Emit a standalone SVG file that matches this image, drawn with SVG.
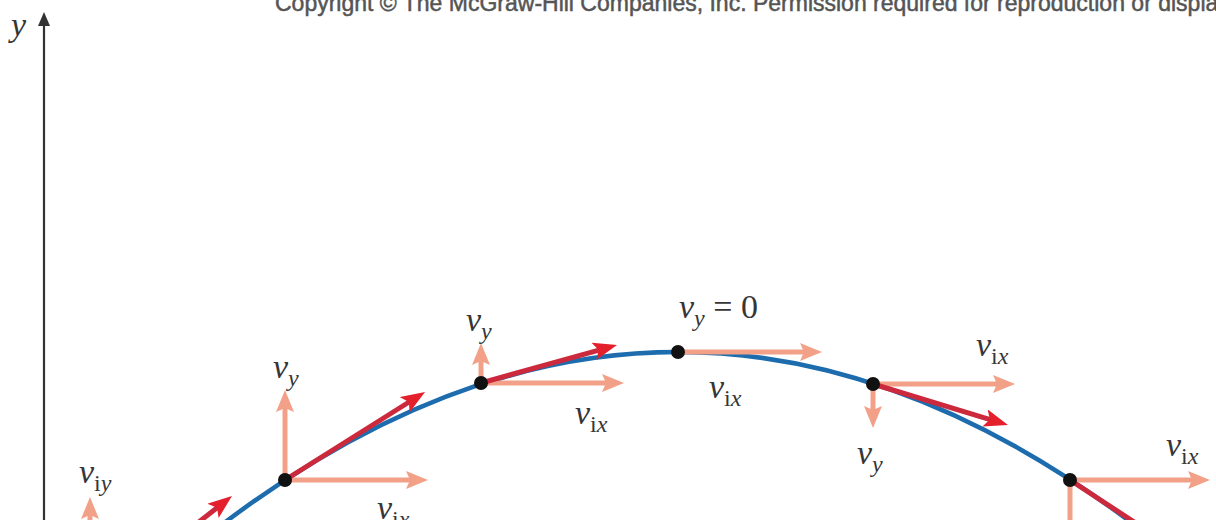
<svg xmlns="http://www.w3.org/2000/svg" width="1216" height="520" viewBox="0 0 1216 520">
  <style>
    .lbl { font-family: "Liberation Serif", "DejaVu Serif", serif; font-style: italic; font-size: 34px; fill: #363636; }
    .sub { font-size: 24px; }
    .rom { font-style: normal; }
    .up { font-style: normal; }
    .dot { fill: #111; }
    .comp { stroke: #f2a088; stroke-width: 5; fill: none; }
    .vel { stroke: #cc2a3c; stroke-width: 5; fill: none; }
    .copy { font-family: "Liberation Sans", Arial, sans-serif; font-size: 23px; fill: #555555; stroke: #555555; stroke-width: 0.5; }
  </style>
  <defs>
    <marker id="hs" markerUnits="userSpaceOnUse" markerWidth="24" markerHeight="20" refX="8" refY="9" orient="auto">
      <path d="M0,0 L22,9 L0,18 L4,9 Z" fill="#f2a088"/>
    </marker>
    <marker id="hr" markerUnits="userSpaceOnUse" markerWidth="26" markerHeight="20" refX="8" refY="9" orient="auto">
      <path d="M0,0 L24,9 L0,18 L5,9 Z" fill="#e4202c"/>
    </marker>
    <marker id="ha" markerUnits="userSpaceOnUse" markerWidth="14" markerHeight="18" refX="2" refY="6" orient="auto">
      <path d="M0,0 L14,6 L0,12 Z" fill="#333"/>
    </marker>
  </defs>
  <rect width="1216" height="520" fill="#ffffff"/>

  <text class="copy" x="275" y="11">Copyright © The McGraw-Hill Companies, Inc. Permission required for reproduction or display.</text>

  <g id="axis">
    <line x1="44" y1="530" x2="44" y2="24" stroke="#333" stroke-width="2.2" marker-end="url(#ha)"/>
    <text class="lbl" x="11" y="36" font-size="28">y</text>
  </g>

  <g id="trajectory">
    <path d="M178,559.5 Q678,144.5 1178,559.5" fill="none" stroke="#1c6cae" stroke-width="4.5"/>
  </g>

  <g id="connectors">
    <!-- components -->
    <line class="comp" x1="90" y1="560" x2="90" y2="511" marker-end="url(#hs)"/>
    <line class="comp" x1="285" y1="480" x2="285" y2="404" marker-end="url(#hs)"/>
    <line class="comp" x1="285" y1="480" x2="414" y2="480" marker-end="url(#hs)"/>
    <line class="comp" x1="481" y1="383" x2="481" y2="357" marker-end="url(#hs)"/>
    <line class="comp" x1="481" y1="383" x2="610" y2="383" marker-end="url(#hs)"/>
    <line class="comp" x1="678" y1="352" x2="808" y2="352" marker-end="url(#hs)"/>
    <line class="comp" x1="873" y1="384" x2="873" y2="414" marker-end="url(#hs)"/>
    <line class="comp" x1="873" y1="384" x2="1001" y2="384" marker-end="url(#hs)"/>
    <line class="comp" x1="1070" y1="480" x2="1196" y2="480" marker-end="url(#hs)"/>
    <line class="comp" x1="1070" y1="480" x2="1070" y2="560"/>
    <!-- velocities -->
    <line class="vel" x1="130" y1="576" x2="219.4" y2="505.9" marker-end="url(#hr)"/>
    <line class="vel" x1="285" y1="480" x2="411.5" y2="400.5" marker-end="url(#hr)"/>
    <line class="vel" x1="481" y1="383" x2="601.6" y2="349.3" marker-end="url(#hr)"/>
    <line class="vel" x1="873" y1="384" x2="992.7" y2="420.3" marker-end="url(#hr)"/>
    <line class="vel" x1="1070" y1="480" x2="1160" y2="539" marker-end="url(#hr)"/>
  </g>

  <g id="p0">
    <text class="lbl" x="79" y="483">v<tspan class="sub rom" dy="8">i</tspan><tspan class="sub">y</tspan></text>
  </g>
  <g id="p1">
    <circle class="dot" cx="285" cy="480" r="7"/>
    <text class="lbl" x="273" y="378">v<tspan class="sub" dy="8">y</tspan></text>
    <text class="lbl" x="377" y="519">v<tspan class="sub rom" dy="8">i</tspan><tspan class="sub">x</tspan></text>
  </g>
  <g id="p2">
    <circle class="dot" cx="481" cy="383" r="7"/>
    <text class="lbl" x="466" y="331">v<tspan class="sub" dy="8">y</tspan></text>
    <text class="lbl" x="575" y="424">v<tspan class="sub rom" dy="8">i</tspan><tspan class="sub">x</tspan></text>
  </g>
  <g id="p3">
    <circle class="dot" cx="678" cy="352" r="7"/>
    <text class="lbl" x="679" y="318">v<tspan class="sub" dy="8">y</tspan><tspan class="up" dy="-8"> = 0</tspan></text>
    <text class="lbl" x="709" y="398">v<tspan class="sub rom" dy="8">i</tspan><tspan class="sub">x</tspan></text>
  </g>
  <g id="p4">
    <circle class="dot" cx="873" cy="384" r="7"/>
    <text class="lbl" x="857" y="464">v<tspan class="sub" dy="8">y</tspan></text>
    <text class="lbl" x="976" y="356">v<tspan class="sub rom" dy="8">i</tspan><tspan class="sub">x</tspan></text>
  </g>
  <g id="p5">
    <circle class="dot" cx="1070" cy="480" r="7"/>
    <text class="lbl" x="1166" y="456">v<tspan class="sub rom" dy="8">i</tspan><tspan class="sub">x</tspan></text>
  </g>
</svg>
